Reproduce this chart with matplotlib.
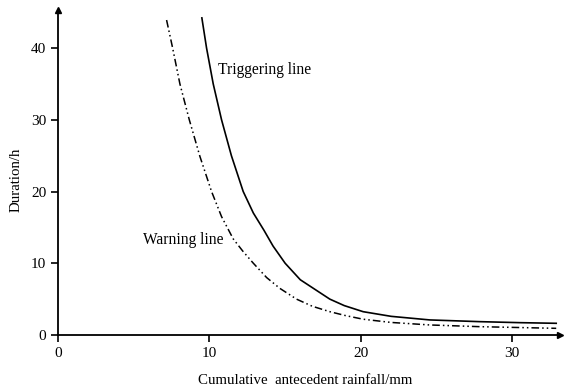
import matplotlib
matplotlib.use("Agg")
import matplotlib.pyplot as plt

# values (rainfall in mm, duration in h)
trig_x = [9.5, 9.81, 10.25, 10.8, 11.45, 12.23, 12.9, 13.6, 14.2, 15.0, 16.0, 17.95, 18.9, 20.15, 22.0, 24.55, 27.85, 30.5, 32.9]
trig_y = [44.2, 40.0, 35.0, 30.0, 25.0, 20.0, 17.0, 14.6, 12.4, 10.0, 7.7, 5.0, 4.1, 3.25, 2.6, 2.1, 1.86, 1.72, 1.63]

warn_x = [7.17, 7.57, 8.05, 8.67, 9.37, 10.14, 10.8, 11.57, 12.2, 12.9, 13.78, 14.65, 15.75, 16.8, 17.95, 19.0, 20.15, 22.0, 24.55, 27.85, 32.9]
warn_y = [43.9, 40.0, 35.0, 30.0, 24.9, 20.0, 16.5, 13.4, 11.7, 10.0, 8.0, 6.5, 5.0, 4.0, 3.25, 2.7, 2.2, 1.75, 1.4, 1.16, 0.93]

x_ticks = [0, 10, 20, 30]
y_ticks = [0, 10, 20, 30, 40]

plt.rcParams["font.family"] = ["Liberation Serif", "DejaVu Serif"]
plt.rcParams["font.size"] = 10.75

fig = plt.figure(figsize=(5.64, 3.9), dpi=100)
ax = fig.add_axes([58/564, 1 - 335/390, (560-58)/564, (335-10)/390])

ax.plot(trig_x, trig_y, color="black", lw=1.2)
ax.plot(warn_x, warn_y, color="black", lw=1.1, linestyle=(0, (5, 2, 1, 2, 1, 2)))

ax.set_xlim(0, 33.15)
ax.set_ylim(0, 45.3)
ax.spines["top"].set_visible(False)
ax.spines["right"].set_visible(False)
ax.spines["left"].set_linewidth(1.3)
ax.spines["bottom"].set_linewidth(1.3)

# arrow heads on the axes
ax.plot(1, 0, ">k", transform=ax.transAxes, clip_on=False, markersize=5)
ax.plot(0, 1, "^k", transform=ax.transAxes, clip_on=False, markersize=5)

ax.set_xticks(x_ticks)
ax.set_yticks(y_ticks)
ax.tick_params(direction="out", length=5, width=1.2, labelsize=11)

ax.text(10.56, 37.0, "Triggering line", fontsize=11.2, va="center", ha="left")
ax.text(5.6, 13.25, "Warning line", fontsize=11.2, va="center", ha="left")

fig.text(16/564, 1 - 180/390, "Duration/h", rotation=90, va="center", ha="center", fontsize=10.75)
fig.text(305/564, 1 - 380/390, "Cumulative  antecedent rainfall/mm", va="center", ha="center", fontsize=10.75)

plt.savefig("out.png", dpi=100)
